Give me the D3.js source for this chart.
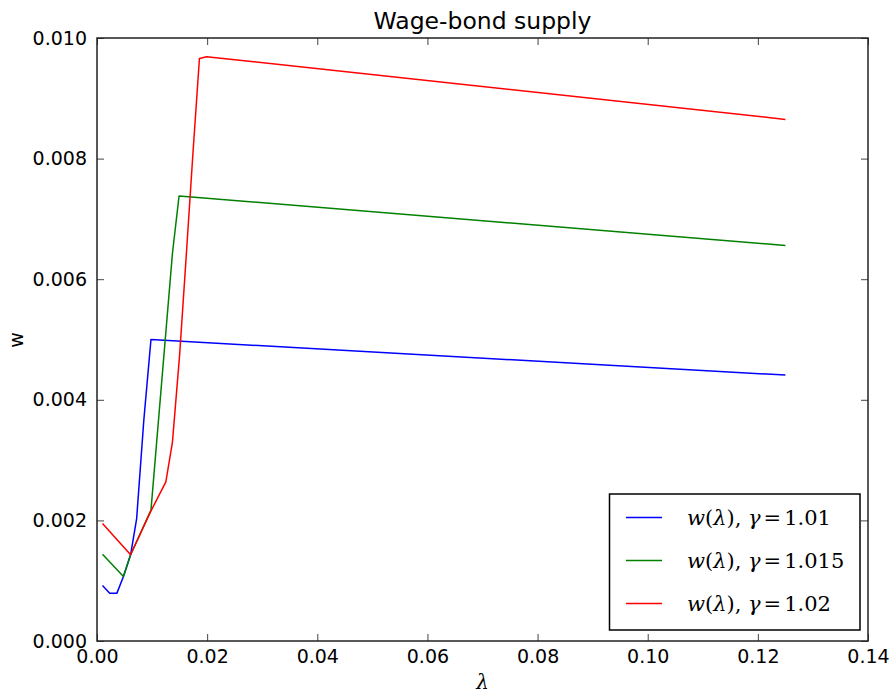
<!DOCTYPE html>
<html>
<head>
<meta charset="utf-8">
<script src="https://cdn.jsdelivr.net/npm/d3@7"></script>
<style>
  body { margin: 0; background: #fff; }
  svg { display: block; }
</style>
</head>
<body>
<div class="container"></div>
<script>
// data
var lamBlue = [0.001, 0.0023, 0.0036, 0.0048, 0.0061, 0.0072, 0.0085, 0.0098, 0.125];
var wBlue   = [0.00092, 0.00079, 0.00079, 0.00107, 0.00143, 0.00203, 0.00366, 0.00500, 0.00441];

var lamGreen = [0.001, 0.0048, 0.0061, 0.0098, 0.0137, 0.0149, 0.125];
var wGreen   = [0.00144, 0.00107, 0.00143, 0.00217, 0.00643, 0.00738, 0.00656];

var lamRed = [0.001, 0.0061, 0.0096, 0.0125, 0.0137, 0.0150, 0.0162, 0.0174, 0.0186, 0.0199, 0.125];
var wRed   = [0.00195, 0.00143, 0.00212, 0.00264, 0.00330, 0.00474, 0.00638, 0.00806, 0.00966, 0.00969, 0.00865];

var gammas = ["1.01", "1.015", "1.02"];
var colors = ["#0000ff", "#008000", "#ff0000"];

var xTicks = [0, 0.02, 0.04, 0.06, 0.08, 0.10, 0.12, 0.14];
var yTicks = [0, 0.002, 0.004, 0.006, 0.008, 0.010];

var series = [
    {lam: lamBlue, w: wBlue},
    {lam: lamGreen, w: wGreen},
    {lam: lamRed, w: wRed}
];

var margin = {top: 38, right: 28, bottom: 54, left: 97},
    width = 896,
    height = 695;

var svg = d3.select(".container").append("svg")
    .attr("width", width)
    .attr("height", height);

var x = d3.scaleLinear()
    .domain([0, 0.14])
    .range([margin.left, width - margin.right]);

var y = d3.scaleLinear()
    .domain([0, 0.010])
    .range([height - margin.bottom, margin.top]);

var tickFont = "19px 'DejaVu Sans', sans-serif";

// lines
var line = d3.line()
    .x(d => x(d[0]))
    .y(d => y(d[1]));

svg.append("g")
    .selectAll("path")
    .data(series)
    .join("path")
      .attr("fill", "none")
      .attr("stroke", (d, i) => colors[i])
      .attr("stroke-width", 1.5)
      .attr("stroke-linejoin", "round")
      .attr("d", d => line(d.lam.map((l, i) => [l, d.w[i]])));

// axes, ticks pointing inward on all four sides
var tl = 7;
svg.append("g")
    .attr("transform", `translate(0,${height - margin.bottom})`)
    .call(d3.axisBottom(x).tickValues(xTicks).tickFormat(d3.format(".2f")).tickSizeInner(-tl).tickSizeOuter(0).tickPadding(tl + 2))
    .call(g => g.select(".domain").remove())
    .call(g => g.selectAll("text").style("font", tickFont).attr("fill", "#000"));

svg.append("g")
    .attr("transform", `translate(0,${margin.top})`)
    .call(d3.axisTop(x).tickValues(xTicks).tickFormat("").tickSizeInner(-tl).tickSizeOuter(0))
    .call(g => g.select(".domain").remove());

svg.append("g")
    .attr("transform", `translate(${margin.left},0)`)
    .call(d3.axisLeft(y).tickValues(yTicks).tickFormat(d3.format(".3f")).tickSizeInner(-tl).tickSizeOuter(0).tickPadding(tl + 3))
    .call(g => g.select(".domain").remove())
    .call(g => g.selectAll("text").style("font", tickFont).attr("fill", "#000"));

svg.append("g")
    .attr("transform", `translate(${width - margin.right},0)`)
    .call(d3.axisRight(y).tickValues(yTicks).tickFormat("").tickSizeInner(-tl).tickSizeOuter(0))
    .call(g => g.select(".domain").remove());

svg.selectAll(".tick line").attr("stroke", "#444").attr("stroke-width", 1);

// frame
svg.append("rect")
    .attr("x", margin.left)
    .attr("y", margin.top)
    .attr("width", width - margin.left - margin.right)
    .attr("height", height - margin.top - margin.bottom)
    .attr("fill", "none")
    .attr("stroke", "#222")
    .attr("stroke-width", 1.5);

// title and labels
svg.append("text")
    .attr("x", (margin.left + width - margin.right) / 2)
    .attr("y", 29)
    .attr("text-anchor", "middle")
    .style("font", "23.5px 'DejaVu Sans', sans-serif")
    .text("Wage-bond supply");

svg.append("text")
    .attr("x", (margin.left + width - margin.right) / 2)
    .attr("y", 689)
    .attr("text-anchor", "middle")
    .style("font", "italic 20px 'DejaVu Serif', serif")
    .text("λ");

svg.append("text")
    .attr("transform", "translate(23,340) rotate(-90)")
    .attr("text-anchor", "middle")
    .style("font", tickFont)
    .text("w");

// legend
var legend = svg.append("g");
legend.append("rect")
    .attr("x", 609.5)
    .attr("y", 494)
    .attr("width", 250.5)
    .attr("height", 136)
    .attr("fill", "#fff")
    .attr("stroke", "#000")
    .attr("stroke-width", 1.5);

var rows = legend.selectAll("g.row")
    .data(gammas)
    .join("g")
      .attr("class", "row")
      .attr("transform", (d, i) => `translate(0,${517.5 + i * 43})`);

rows.append("line")
    .attr("x1", 626)
    .attr("x2", 662)
    .attr("stroke", (d, i) => colors[i])
    .attr("stroke-width", 1.5);

var lt = rows.append("text")
    .attr("x", 687)
    .attr("y", 7)
    .style("font", "21px 'DejaVu Serif', serif");

lt.append("tspan").style("font-style", "italic").text("w");
lt.append("tspan").text("(");
lt.append("tspan").style("font-style", "italic").text("λ");
lt.append("tspan").text("), ");
lt.append("tspan").style("font-style", "italic").text("γ");
lt.append("tspan").attr("dx", 3).text("=");
lt.append("tspan").attr("dx", 3).text(d => d);
</script>
</body>
</html>
